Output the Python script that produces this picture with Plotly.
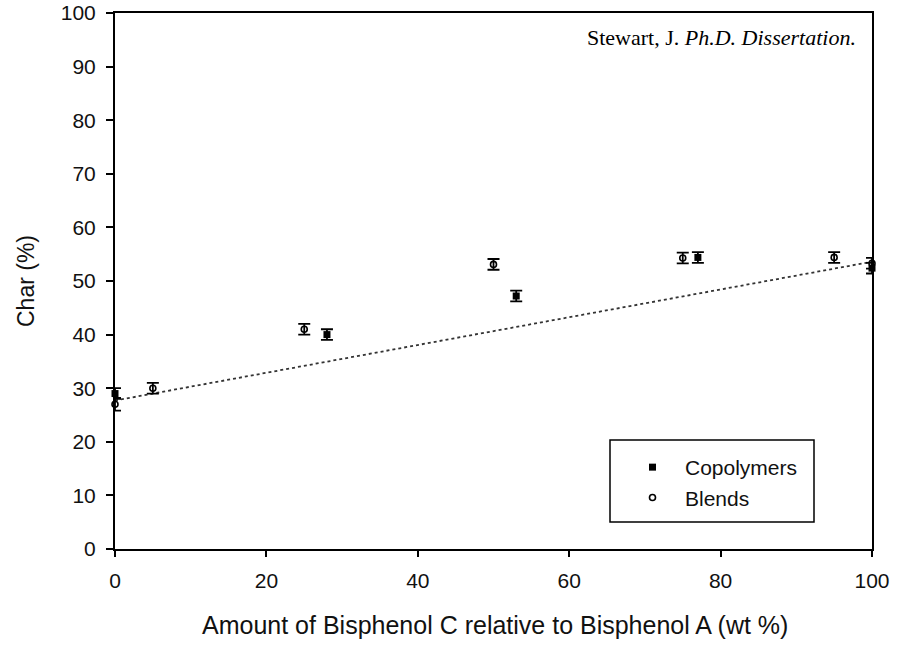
import plotly.graph_objects as go

# Data
copoly_x = [0, 28, 53, 77, 100]
copoly_y = [29.0, 40.0, 47.2, 54.4, 52.4]
copoly_err = [1.0, 1.0, 1.0, 1.0, 1.0]

blend_x = [0, 5, 25, 50, 75, 95, 100]
blend_y = [27.0, 30.0, 41.0, 53.1, 54.3, 54.4, 53.3]
blend_err = [1.2, 1.0, 1.0, 1.0, 1.0, 1.0, 1.0]

trend_x = [0, 100]
trend_y = [27.7, 53.6]

x_ticks = [0, 20, 40, 60, 80, 100]
y_ticks = [0, 10, 20, 30, 40, 50, 60, 70, 80, 90, 100]

x_title = "Amount of Bisphenol C relative to Bisphenol A (wt %)"
y_title = "Char (%)"
source_note = "Stewart, J. <i>Ph.D. Dissertation.</i>"

fig = go.Figure()

fig.add_trace(go.Scatter(
    x=trend_x, y=trend_y, mode="lines",
    line=dict(color="#333333", width=1.8, dash="dot"),
    showlegend=False, hoverinfo="skip", cliponaxis=False,
))

fig.add_trace(go.Scatter(
    x=copoly_x, y=copoly_y, mode="markers", name="Copolymers",
    marker=dict(symbol="square", size=7, color="black"),
    error_y=dict(type="data", array=copoly_err, visible=True,
                 color="black", thickness=1.8, width=6),
    cliponaxis=False,
))

fig.add_trace(go.Scatter(
    x=blend_x, y=blend_y, mode="markers", name="Blends",
    marker=dict(symbol="circle-open", size=6, color="black",
                line=dict(width=1.6, color="black")),
    error_y=dict(type="data", array=blend_err, visible=True,
                 color="black", thickness=1.8, width=6),
    cliponaxis=False,
))

sans = "Liberation Sans, Arial, Helvetica, sans-serif"

# plot area: x 115..872, y 13..549 (page body margin removed below)
fig.update_layout(
    width=906, height=645,
    margin=dict(l=115, r=34, t=13, b=96, autoexpand=False),
    paper_bgcolor="white", plot_bgcolor="white",
    font=dict(family=sans, size=21, color="#111111"),
    xaxis=dict(
        range=[0, 100], tickvals=x_ticks, ticks="outside", ticklen=6,
        tickwidth=1.5, tickcolor="black", automargin=False,
        showline=True, linecolor="black", linewidth=2, mirror=True,
        showgrid=False, zeroline=False, ticklabelstandoff=6,
        tickfont=dict(size=21),
    ),
    yaxis=dict(
        range=[0, 100], tickvals=y_ticks, ticks="outside", ticklen=7,
        tickwidth=1.5, tickcolor="black", automargin=False,
        showline=True, linecolor="black", linewidth=2, mirror=True,
        showgrid=False, zeroline=False, ticklabelstandoff=6,
        ticklabeloverflow="allow",
        tickfont=dict(size=21),
        title=dict(text=y_title, font=dict(size=23), standoff=20),
    ),
    legend=dict(
        x=(620 - 115) / 757, y=(549 - 447) / 536, xanchor="left", yanchor="top",
        bgcolor="rgba(0,0,0,0)", borderwidth=0,
        font=dict(size=21), itemwidth=55, tracegroupgap=0,
    ),
    annotations=[
        dict(
            text=source_note,
            xref="paper", yref="paper", x=(858 - 115) / 757, y=(549 - 37) / 536,
            xanchor="right", yanchor="middle", showarrow=False,
            font=dict(family="Liberation Serif, Times New Roman, serif", size=22, color="black"),
        ),
        dict(
            text=x_title,
            xref="paper", yref="paper", x=(495 - 115) / 757, y=(549 - 625) / 536,
            xanchor="center", yanchor="middle", showarrow=False,
            font=dict(family=sans, size=25, color="#111111"),
        ),
    ],
    shapes=[
        dict(type="rect", xref="paper", yref="paper",
             x0=(610 - 115) / 757, x1=(814 - 115) / 757,
             y0=(549 - 522) / 536, y1=(549 - 440) / 536,
             line=dict(color="black", width=1.5)),
    ],
)

fig.write_html("out.html", config={"displayModeBar": False},
               post_script="document.body.style.margin='0px';")
